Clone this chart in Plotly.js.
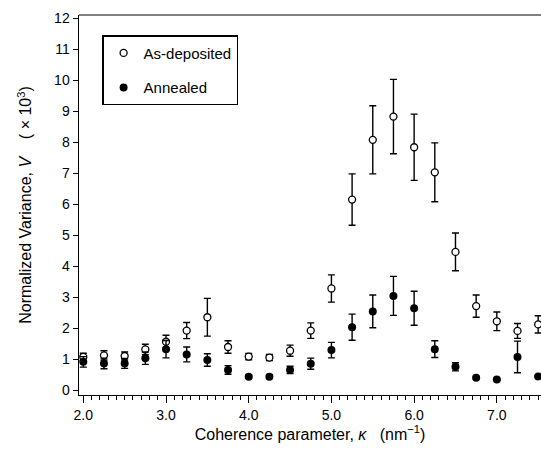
<!DOCTYPE html>
<html>
<head>
<meta charset="utf-8">
<script src="https://cdn.plot.ly/plotly-3.0.1.min.js"></script>
<style>html,body{margin:0;padding:0;background:#fff;}#chart{width:541px;height:451px;}</style>
</head>
<body>
<div id="chart"></div>
<script>
// Coherence parameter kappa (nm^-1)
const kappa = [2.0, 2.25, 2.5, 2.75, 3.0, 3.25, 3.5, 3.75, 4.0, 4.25, 4.5, 4.75, 5.0, 5.25, 5.5, 5.75, 6.0, 6.25, 6.5, 6.75, 7.0, 7.25, 7.5];
// As-deposited normalized variance (x10^3) and error
const asDeposited    = [1.07, 1.12, 1.10, 1.31, 1.56, 1.92, 2.35, 1.39, 1.08, 1.05, 1.27, 1.92, 3.28, 6.15, 8.08, 8.83, 7.84, 7.03, 4.46, 2.71, 2.22, 1.91, 2.12];
const asDepositedErr = [0.12, 0.15, 0.13, 0.17, 0.21, 0.26, 0.61, 0.20, 0.10, 0.10, 0.18, 0.25, 0.44, 0.83, 1.10, 1.20, 1.07, 0.95, 0.61, 0.36, 0.30, 0.24, 0.28];
// Annealed normalized variance (x10^3) and error
const annealed       = [0.91, 0.86, 0.86, 1.03, 1.32, 1.15, 0.97, 0.65, 0.43, 0.43, 0.65, 0.85, 1.29, 2.03, 2.54, 3.04, 2.64, 1.32, 0.75, 0.40, 0.34, 1.07, 0.44];
const annealedErr    = [0.17, 0.17, 0.16, 0.20, 0.28, 0.24, 0.20, 0.14, 0.05, 0.05, 0.12, 0.18, 0.25, 0.42, 0.53, 0.63, 0.55, 0.27, 0.13, 0.04, 0.03, 0.51, 0.04];

const seriesNames = ['As-deposited', 'Annealed'];
const xTickVals = [2, 3, 4, 5, 6, 7];
const xTickText = ['2.0', '3.0', '4.0', '5.0', '6.0', '7.0'];
const yTickVals = [0,1,2,3,4,5,6,7,8,9,10,11,12];

const font = 'Liberation Sans, Arial, Helvetica, sans-serif';

const traces = [
  {
    x: kappa, y: asDeposited, name: seriesNames[0], legendgroup: 'a',
    type: 'scatter', mode: 'markers',
    marker: {symbol: 'circle', size: 7, color: '#ffffff', line: {color: '#000', width: 1.3}},
    error_y: {type: 'data', array: asDepositedErr, visible: true, color: '#000', thickness: 1.4, width: 3.5}
  },
  {
    x: kappa, y: annealed, name: seriesNames[1], legendgroup: 'b',
    type: 'scatter', mode: 'markers',
    marker: {symbol: 'circle', size: 8, color: '#000', line: {color: '#000', width: 0}},
    error_y: {type: 'data', array: annealedErr, visible: true, color: '#000', thickness: 1.4, width: 3.5}
  }
];

const layout = {
  width: 541, height: 451,
  margin: {l: 79, r: 0, t: 15, b: 56},
  paper_bgcolor: '#fff', plot_bgcolor: '#fff',
  font: {family: font, size: 14, color: '#000'},
  showlegend: true,
  legend: {
    x: 0.05, y: 0.947, xanchor: 'left', yanchor: 'top',
    bordercolor: '#000', borderwidth: 1.5, bgcolor: '#fff',
    font: {family: font, size: 15, color: '#000'},
    tracegroupgap: 12, itemwidth: 30,
    traceorder: 'grouped'
  },
  xaxis: {
    range: [1.948, 7.534],
    tickvals: xTickVals, ticktext: xTickText,
    ticks: 'outside', ticklen: 7, tickwidth: 1, tickcolor: '#000',
    minor: {dtick: 0.1, tick0: 2, ticks: 'outside', ticklen: 4, tickwidth: 1, tickcolor: '#000', showgrid: false},
    showline: true, linecolor: '#000', linewidth: 1,
    showgrid: false, zeroline: false,
    tickfont: {family: font, size: 14, color: '#000'},
    title: {text: 'Coherence parameter, <i>κ</i>   (nm<sup>−1</sup>)', font: {family: font, size: 16, color: '#000'}, standoff: 6}
  },
  yaxis: {
    range: [-0.16, 12.11],
    tickvals: yTickVals,
    ticks: 'outside', ticklen: 5, tickwidth: 1, tickcolor: '#000',
    showline: true, linecolor: '#000', linewidth: 1.5,
    showgrid: false, zeroline: false,
    tickfont: {family: font, size: 14, color: '#000'},
    title: {text: 'Normalized Variance, <i>V</i>    ( × 10<sup>3</sup>)', font: {family: font, size: 16, color: '#000'}, standoff: 18}
  },
  shapes: [
    {type: 'line', xref: 'paper', yref: 'paper', x0: 0, x1: 1, y0: 1, y1: 1, line: {color: '#000', width: 1}}
  ]
};

Plotly.newPlot('chart', traces, layout, {displayModeBar: false, staticPlot: true});
</script>
</body>
</html>
